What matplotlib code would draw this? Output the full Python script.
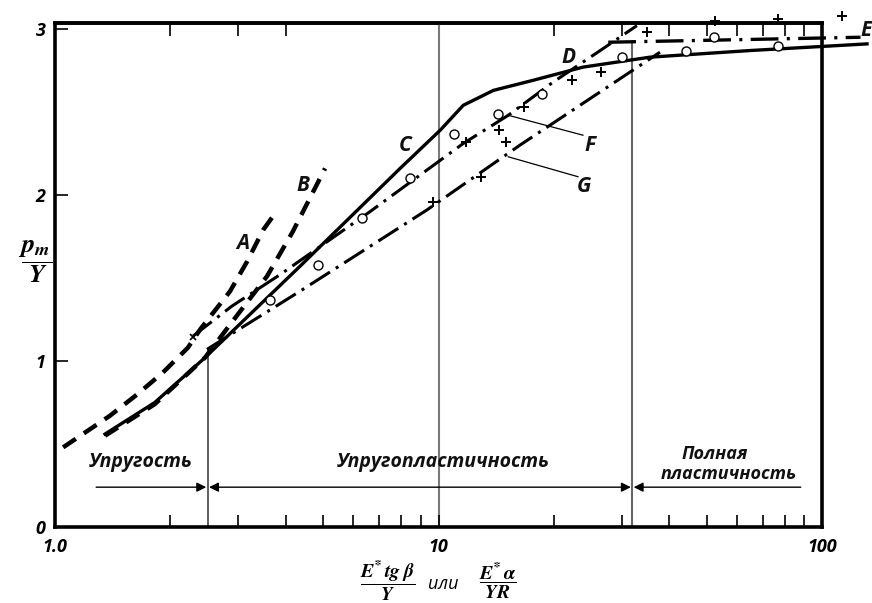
import matplotlib
matplotlib.use("Agg")
import matplotlib.pyplot as plt
from matplotlib.ticker import FixedLocator, NullFormatter, NullLocator

plt.rcParams["font.family"] = ["Open Sans", "DejaVu Sans"]
plt.rcParams["font.weight"] = "bold"
plt.rcParams["font.style"] = "italic"
plt.rcParams["mathtext.fontset"] = "stix"
plt.rcParams["lines.scale_dashes"] = False

# ---- data -------------------------------------------------------------
# C: solid curve
c_x = [1.35, 1.82, 2.46, 4.35, 7.94, 10.1, 11.6, 13.9, 17.6, 23.8, 35.6, 64.9, 131]
c_y = [0.56, 0.75, 1.02, 1.57, 2.16, 2.39, 2.54, 2.63, 2.69, 2.77, 2.83, 2.87, 2.91]
# A: dashed curve
a_x = [1.05, 1.39, 1.64, 1.91, 2.22, 2.39, 2.86, 3.17, 3.49, 3.75]
a_y = [0.48, 0.67, 0.80, 0.93, 1.08, 1.19, 1.42, 1.60, 1.79, 1.89]
# B: dashed curve
b_x = [1.35, 1.82, 2.46, 2.95, 3.57, 4.17, 5.06]
b_y = [0.55, 0.74, 1.02, 1.26, 1.51, 1.78, 2.16]
# D / F: upper dash-dot line
d_x = [2.29, 2.89, 3.86, 6.63, 11.6, 15.2, 19.9, 26.4, 32.9]
d_y = [1.15, 1.33, 1.52, 1.90, 2.31, 2.48, 2.68, 2.87, 3.02]
# G: lower dash-dot line
g_x = [2.49, 4.35, 9.33, 16.3, 37.8]
g_y = [1.07, 1.42, 1.91, 2.30, 2.86]
# E: full plasticity level
e_x = [27.7, 126]
e_y = [2.92, 2.95]
# experimental points
circ_x = [3.64, 4.85, 6.32, 8.43, 11.0, 14.3, 18.6, 30.1, 44.2, 52.3, 76.8]
circ_y = [1.37, 1.58, 1.86, 2.10, 2.37, 2.49, 2.61, 2.83, 2.87, 2.95, 2.90]
plus_x = [9.68, 11.8, 12.9, 14.4, 15.0, 16.7, 22.3, 26.5, 35.0, 52.6, 76.8, 113]
plus_y = [1.96, 2.32, 2.11, 2.39, 2.32, 2.53, 2.69, 2.74, 2.98, 3.05, 3.06, 3.08]
cross_x = [2.29]
cross_y = [1.145]

# regime boundaries
x_elastic = 2.5
x_plastic = 32.0
arrow_y = 0.24
arrow_left = 1.28
arrow_right = 88.0

x_ticks = [1, 10, 100]
x_tick_labels = ["1.0", "10", "100"]
x_minor = [2, 3, 4, 5, 6, 7, 8, 9, 20, 30, 40, 50, 60, 70, 80, 90]
x_top = [2, 3, 4, 20, 30, 40, 50, 60, 70, 80, 90]
y_ticks = [0, 1, 2, 3]

# ---- figure -----------------------------------------------------------
fig = plt.figure(figsize=(8.72, 6.03), dpi=100)
ax = fig.add_axes([0.0631, 0.1260, 0.8796, 0.8359])
ax.set_xscale("log")
ax.set_xlim(1, 100)
ax.set_ylim(0, 3.036)

for s in ax.spines.values():
    s.set_linewidth(2.6)

ax.set_xticks(x_ticks)
ax.set_xticklabels(x_tick_labels)
ax.xaxis.set_minor_locator(FixedLocator(x_minor))
ax.xaxis.set_minor_formatter(NullFormatter())
ax.set_yticks(y_ticks)
ax.set_yticklabels([str(v) for v in y_ticks])
ax.tick_params(axis="both", which="both", direction="in", length=9, width=1.2,
               labelsize=13, pad=8)
ax.tick_params(axis="y", pad=7)

sec = ax.secondary_xaxis("top")
sec.set_xticks(x_top)
sec.xaxis.set_minor_locator(NullLocator())
sec.xaxis.set_major_formatter(NullFormatter())
sec.tick_params(direction="in", length=9, width=1.2)
sec.spines["top"].set_linewidth(2.6)

# boundaries between regimes
ax.axvline(10, color="#7a7a7a", lw=1.5, zorder=1)
ax.plot([x_elastic, x_elastic], [0, 1.07], color="#444444", lw=1.2, zorder=1)
ax.plot([x_plastic, x_plastic], [0, 2.92], color="#666666", lw=1.5, zorder=1)

# curves
ax.plot(c_x, c_y, color="black", lw=2.4, clip_on=False, zorder=4)
ax.plot(a_x, a_y, color="black", lw=3.2, dashes=(11, 7), zorder=3)
ax.plot(b_x, b_y, color="black", lw=3.2, dashes=(11, 7), zorder=3)
ax.plot(d_x, d_y, color="black", lw=2.2, dashes=(17, 5, 2.2, 5), clip_on=False, zorder=3)
ax.plot(g_x, g_y, color="black", lw=2.2, dashes=(17, 5, 2.2, 5), zorder=3)
ax.plot(e_x, e_y, color="black", lw=2.4, dashes=(20, 6, 2.2, 6), clip_on=False, zorder=3)

ax.plot(circ_x, circ_y, linestyle="none", marker="o", ms=6.5, mfc="white",
        mec="black", mew=1.0, clip_on=False, zorder=5)
ax.plot(plus_x, plus_y, linestyle="none", marker="+", ms=7, mec="black",
        mew=1.4, clip_on=False, zorder=5)
ax.plot(cross_x, cross_y, linestyle="none", marker="x", ms=5, mec="black",
        mew=1.2, zorder=5)

# leader lines for F and G
ax.plot([15.2, 23.8], [2.48, 2.36], color="black", lw=0.9)
ax.plot([15.2, 23.1], [2.23, 2.11], color="black", lw=0.9)

label_kw = dict(fontsize=15, color="#111111", ha="center", va="center")
ax.text(3.09, 1.71, "A", **label_kw)
ax.text(4.43, 2.06, "B", **label_kw)
ax.text(8.18, 2.30, "C", **label_kw)
ax.text(21.8, 2.83, "D", **label_kw)
ax.text(130, 2.99, "E", clip_on=False, **label_kw)
ax.text(24.8, 2.30, "F", **label_kw)
ax.text(23.9, 2.05, "G", **label_kw)

# regime arrows
arr = dict(arrowstyle="-|>", color="black", lw=1.0, mutation_scale=14,
           shrinkA=0, shrinkB=1)
ax.annotate("", xy=(x_elastic, arrow_y), xytext=(arrow_left, arrow_y), arrowprops=arr)
arr2 = dict(arrowstyle="<|-|>", color="black", lw=1.0, mutation_scale=14,
            shrinkA=1, shrinkB=1)
ax.annotate("", xy=(x_plastic, arrow_y), xytext=(x_elastic, arrow_y), arrowprops=arr2)
arr3 = dict(arrowstyle="<|-", color="black", lw=1.0, mutation_scale=14,
            shrinkA=1, shrinkB=0)
ax.annotate("", xy=(arrow_right, arrow_y), xytext=(x_plastic, arrow_y), arrowprops=arr3)

reg_kw = dict(fontsize=14, ha="center", va="center", color="#111111")
ax.text(1.67, 0.39, "Упругость", **reg_kw)
ax.text(10.3, 0.39, "Упругопластичность", **reg_kw)
reg_kw2 = dict(fontsize=13, ha="center", va="center", color="#111111")
ax.text(52.5, 0.44, "Полная", **reg_kw2)
ax.text(57.0, 0.32, "пластичность", **reg_kw2)

# axis titles
fig.text(0.040, 0.565, r"$\dfrac{\mathbfit{p}_{\mathbfit{m}}}{\mathbfit{Y}}$",
         fontsize=19, ha="center", va="center")
fig.text(388 / 872, 1 - 581 / 603,
         r"$\dfrac{\mathbfit{E}^{*}\,\mathbfit{tg}\;\mathbfit{\beta}}{\mathbfit{Y}}$",
         fontsize=14, ha="center", va="center")
fig.text(443 / 872, 1 - 584 / 603, "или", fontsize=13, fontweight="normal",
         ha="center", va="center")
fig.text(498 / 872, 1 - 581 / 603,
         r"$\dfrac{\mathbfit{E}^{*}\,\mathbfit{\alpha}}{\mathbfit{YR}}$",
         fontsize=14, ha="center", va="center")

fig.savefig("out.png", dpi=100)
